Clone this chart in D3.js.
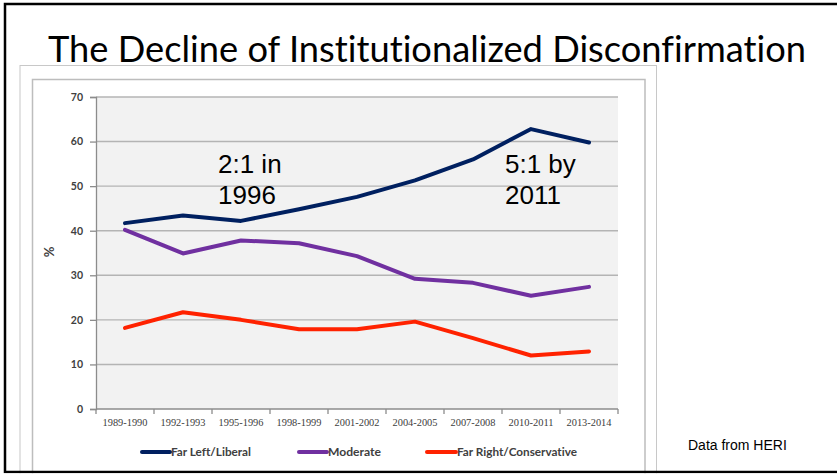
<!DOCTYPE html>
<html>
<head>
<meta charset="utf-8">
<script src="https://cdn.jsdelivr.net/npm/d3@7"></script>
<style>
  html, body { margin: 0; padding: 0; background: #fff; }
  svg { display: block; }
  text { font-variant-ligatures: none; font-feature-settings: "liga" 0, "clig" 0; }
</style>
</head>
<body>
<svg id="chart" width="837" height="474"></svg>
<script>
// Survey years (HERI faculty survey)
const categories = ["1989-1990", "1992-1993", "1995-1996", "1998-1999", "2001-2002",
                    "2004-2005", "2007-2008", "2010-2011", "2013-2014"];

// Share of faculty by political identification, %
const farLeftLiberal       = [41.7, 43.4, 42.2, 44.8, 47.6, 51.3, 56.0, 62.8, 59.8];
const moderate             = [40.2, 34.9, 37.8, 37.2, 34.3, 29.2, 28.3, 25.4, 27.4];
const farRightConservative = [18.2, 21.7, 20.0, 17.9, 17.9, 19.6, 15.9, 12.0, 12.9];

const seriesNames  = ["Far Left/Liberal", "Moderate", "Far Right/Conservative"];
const seriesColors = ["#002060", "#7030A0", "#FF2200"];
const yTicks       = [0, 10, 20, 30, 40, 50, 60, 70];

const titleText   = "The Decline of Institutionalized Disconfirmation";
const notes       = [["2:1 in", "1996"], ["5:1 by", "2011"]];
const sourceText  = "Data from HERI";

const series = [farLeftLiberal, moderate, farRightConservative].map((values, i) => ({
  name: seriesNames[i], color: seriesColors[i], values
}));

const svg = d3.select("#chart");

// Slide title
svg.append("text")
  .attr("x", 48).attr("y", 62)
  .attr("font-family", "Lato, 'Open Sans', sans-serif")
  .attr("font-size", 36)
  .attr("fill", "#000")
  .attr("textLength", 758).attr("lengthAdjust", "spacingAndGlyphs")
  .text(titleText);

// Chart frames
svg.append("rect")
  .attr("x", 20).attr("y", 65.5).attr("width", 636.5).attr("height", 420)
  .attr("fill", "#fff").attr("stroke", "#c8c8c8").attr("stroke-width", 1);
svg.append("rect")
  .attr("x", 32.5).attr("y", 79.5).attr("width", 612.5).attr("height", 400)
  .attr("fill", "#fff").attr("stroke", "#bdbdbd").attr("stroke-width", 1.5);

// Scales
const plot = { left: 96, right: 618, top: 97, bottom: 409 };
const x = d3.scaleBand().domain(categories).range([plot.left, plot.right]);
const y = d3.scaleLinear().domain([0, 70]).range([plot.bottom, plot.top]);
const cx = d => x(d) + x.bandwidth() / 2;

// Plot area background
svg.append("rect")
  .attr("x", plot.left).attr("y", plot.top)
  .attr("width", plot.right - plot.left).attr("height", plot.bottom - plot.top)
  .attr("fill", "#f2f2f2");

// Horizontal gridlines
svg.append("g").selectAll("line")
  .data(yTicks.filter(t => t > 0))
  .join("line")
  .attr("x1", plot.left).attr("x2", plot.right)
  .attr("y1", d => y(d)).attr("y2", d => y(d))
  .attr("stroke", "#b4b4b4").attr("stroke-width", 1.4);

// Y axis
const yAxis = svg.append("g")
  .attr("transform", `translate(${plot.left},0)`)
  .call(d3.axisLeft(y).tickValues(yTicks).tickSize(6).tickPadding(7));
yAxis.select(".domain").attr("stroke", "#8c8c8c").attr("stroke-width", 1.3);
yAxis.selectAll(".tick line").attr("stroke", "#8c8c8c").attr("stroke-width", 1.3);
yAxis.selectAll(".tick text")
  .attr("font-family", "Lato, 'Open Sans', sans-serif")
  .attr("font-size", 10.5).attr("font-weight", "bold")
  .attr("fill", "#404040");

// X axis with ticks between categories
const xAxisG = svg.append("g").attr("transform", `translate(0,${plot.bottom})`);
xAxisG.append("line")
  .attr("x1", plot.left).attr("x2", plot.right)
  .attr("stroke", "#8c8c8c").attr("stroke-width", 1.3);
xAxisG.selectAll("line.tk")
  .data(categories.map(c => x(c)).concat([plot.right]))
  .join("line").attr("class", "tk")
  .attr("x1", d => d).attr("x2", d => d)
  .attr("y1", 0).attr("y2", 5)
  .attr("stroke", "#8c8c8c").attr("stroke-width", 1.3);
xAxisG.selectAll("text")
  .data(categories)
  .join("text")
  .attr("x", d => cx(d)).attr("y", 17)
  .attr("text-anchor", "middle")
  .attr("font-family", "'Liberation Serif', 'DejaVu Serif', serif")
  .attr("font-size", 10)
  .attr("fill", "#404040")
  .attr("textLength", 45).attr("lengthAdjust", "spacingAndGlyphs")
  .text(d => d);

// Y axis title
svg.append("text")
  .attr("transform", `translate(54,252) rotate(-90)`)
  .attr("text-anchor", "middle")
  .attr("font-family", "Lato, 'Open Sans', sans-serif")
  .attr("font-size", 13).attr("font-weight", "bold")
  .attr("fill", "#404040")
  .text("%");

// Series lines
const line = d3.line()
  .x((d, i) => cx(categories[i]))
  .y(d => y(d));

svg.append("g").selectAll("path")
  .data(series)
  .join("path")
  .attr("d", d => line(d.values))
  .attr("fill", "none")
  .attr("stroke", d => d.color)
  .attr("stroke-width", 4)
  .attr("stroke-linejoin", "round")
  .attr("stroke-linecap", "round");

// Ratio annotations
const noteX = [218, 505];
notes.forEach((lines, i) => {
  lines.forEach((t, j) => {
    svg.append("text")
      .attr("x", noteX[i]).attr("y", 173 + j * 31)
      .attr("font-family", "'Liberation Sans', Arial, sans-serif")
      .attr("font-size", 26)
      .attr("fill", "#000")
      .text(t);
  });
});

// Legend
const legendItems = [
  { x0: 142, x1: 170, tw: 80 },
  { x0: 299, x1: 327, tw: 53 },
  { x0: 427, x1: 456, tw: 120 }
];
const legend = svg.append("g");
series.forEach((s, i) => {
  const it = legendItems[i];
  legend.append("line")
    .attr("x1", it.x0).attr("x2", it.x1)
    .attr("y1", 452).attr("y2", 452)
    .attr("stroke", s.color).attr("stroke-width", 4)
    .attr("stroke-linecap", "round");
  legend.append("text")
    .attr("x", it.x1 + 1).attr("y", 456)
    .attr("font-family", "Lato, 'Open Sans', sans-serif")
    .attr("font-size", 11).attr("font-weight", "bold")
    .attr("fill", "#404040")
    .attr("textLength", it.tw).attr("lengthAdjust", "spacingAndGlyphs")
    .text(s.name);
});

// Source note
svg.append("text")
  .attr("x", 688).attr("y", 450)
  .attr("font-family", "'Liberation Sans', Arial, sans-serif")
  .attr("font-size", 14)
  .attr("fill", "#000")
  .text(sourceText);

// Slide border, drawn on top of the chart frames
svg.append("rect")
  .attr("x", 5).attr("y", 4).attr("width", 840).attr("height", 468)
  .attr("fill", "none").attr("stroke", "#000").attr("stroke-width", 2.5);
svg.append("rect")
  .attr("x", 0).attr("y", 473.3).attr("width", 837).attr("height", 1)
  .attr("fill", "#fff");
</script>
</body>
</html>
